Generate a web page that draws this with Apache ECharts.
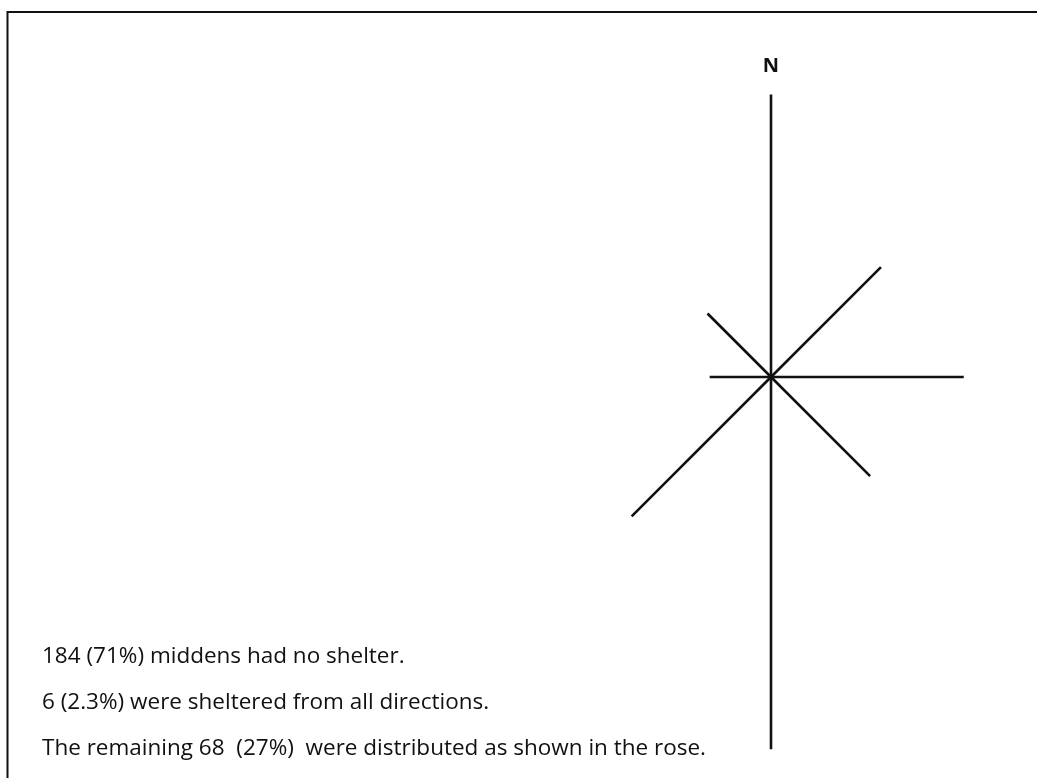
<!DOCTYPE html>
<html>
<head>
<meta charset="utf-8">
<script src="https://cdn.jsdelivr.net/npm/echarts@6/dist/echarts.min.js"></script>
<style>
  html, body { margin: 0; padding: 0; background: #fff; }
  #chart { width: 1037px; height: 778px; }
</style>
</head>
<body>
<div id="chart"></div>
<script>
// directions of the rose (degrees clockwise from north)
var directions = ['N', 'NE', 'E', 'SE', 'S', 'SW', 'W', 'NW'];
var angles = [0, 45, 90, 135, 180, 225, 270, 315];
// middens sheltered per direction (length of each arm)
var counts = [12.9, 7.1, 8.8, 6.4, 17.0, 9.0, 2.8, 4.1];

var notes = [
  '184 (71%) middens had no shelter.',
  '6 (2.3%) were sheltered from all directions.',
  'The remaining 68  (27%)  were distributed as shown in the rose.'
];

var font = 'Open Sans';
var ink = '#111';

var series = [];
for (var i = 0; i < directions.length; i++) {
  series.push({
    name: directions[i],
    type: 'line',
    coordinateSystem: 'polar',
    showSymbol: false,
    symbol: 'none',
    silent: true,
    lineStyle: { color: ink, width: 2.6 },
    data: [[0, angles[i]], [counts[i], angles[i]]]
  });
}

// north marker above the N arm
series.push({
  type: 'scatter',
  coordinateSystem: 'polar',
  symbolSize: 0,
  silent: true,
  itemStyle: { opacity: 1 },
  label: {
    show: true,
    position: 'top',
    distance: 18,
    formatter: directions[0],
    color: ink,
    fontFamily: font,
    fontWeight: 'bold',
    fontSize: 20
  },
  data: [[counts[0], angles[0]]]
});

var texts = [];
for (var j = 0; j < notes.length; j++) {
  texts.push({
    type: 'text',
    left: 42,
    top: 645 + j * 46,
    style: {
      text: notes[j],
      fill: ink,
      font: '22.5px "' + font + '"'
    }
  });
}

// frame (top and left edges only, as in the page)
texts.push({
  type: 'polyline',
  shape: { points: [[7.5, 778], [7.5, 12], [1037, 12]] },
  style: { stroke: ink, lineWidth: 2, fill: null }
});

var myChart = echarts.init(document.getElementById('chart'));
myChart.setOption({
  animation: false,
  backgroundColor: '#fff',
  polar: {
    center: [771, 377],
    radius: 438
  },
  angleAxis: {
    type: 'value',
    min: 0,
    max: 360,
    startAngle: 90,
    clockwise: true,
    show: false
  },
  radiusAxis: {
    type: 'value',
    min: 0,
    max: 20,
    show: false
  },
  series: series,
  graphic: texts
});
</script>
</body>
</html>
